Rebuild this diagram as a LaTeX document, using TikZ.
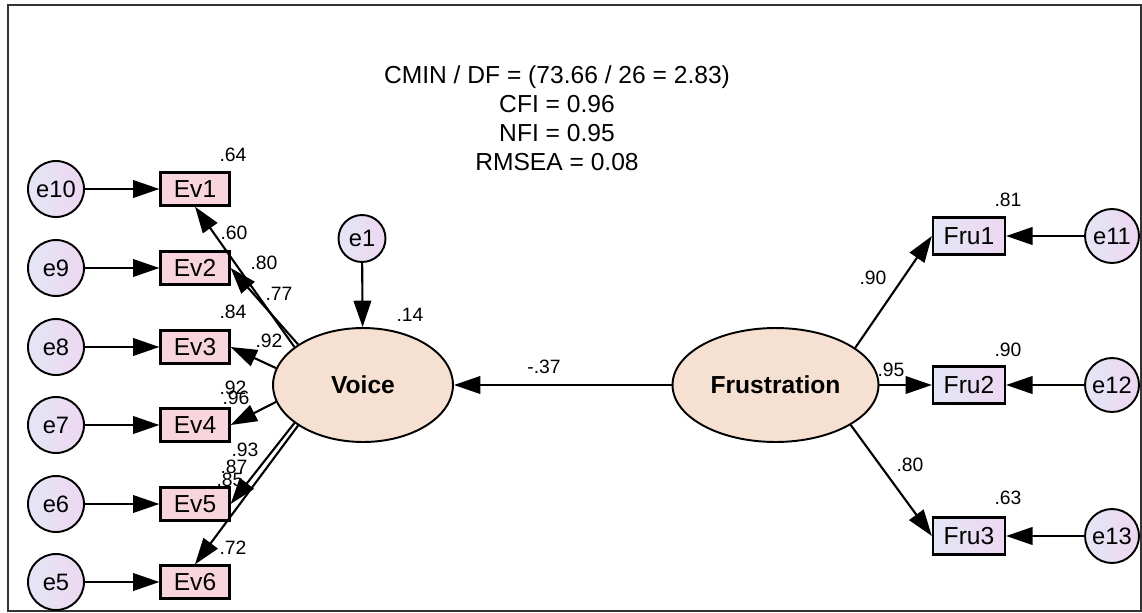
\documentclass[tikz,border=0pt]{standalone}
\usepackage{fontspec}
\setmainfont{Liberation Sans}
\usetikzlibrary{arrows.meta,shapes.geometric}
\definecolor{obspink}{HTML}{F8D5DC}
\definecolor{latpeach}{HTML}{F5E0D1}
\definecolor{errleft}{HTML}{E3E6F5}
\definecolor{errright}{HTML}{EED7F1}
\definecolor{framegray}{HTML}{333333}
\tikzset{
  semobs/.style={draw=black,line width=1.3pt,fill=obspink,font=\fontsize{14}{16}\selectfont,minimum width=1.38cm,minimum height=0.66cm,inner sep=0pt},
  semfru/.style={semobs,left color=errleft,right color=errright,minimum width=1.44cm,minimum height=0.74cm},
  semerr/.style={circle,draw=black,line width=1.1pt,left color=errleft,right color=errright,font=\fontsize{13.5}{15}\selectfont,minimum size=1.12cm,inner sep=0pt},
  semlat/.style={ellipse,draw=black,line width=1.1pt,fill=latpeach,font=\bfseries\fontsize{14}{16}\selectfont,minimum width=3.6cm,minimum height=2.28cm},
  sempath/.style={-{Triangle[length=15pt,width=10pt]},line width=1.2pt},
  semnum/.style={font=\fontsize{11}{13}\selectfont,inner sep=0pt}
}

\begin{document}
\begin{tikzpicture}[x=0.02cm,y=-0.02cm]
\useasboundingbox (0,0) rectangle (1142,612);
\draw[framegray,line width=1pt] (8,5) rectangle (1141,611);
\node[font=\fontsize{14}{16.4}\selectfont,align=center] (fitidx) at (557,118) {CMIN / DF = (73.66 / 26 = 2.83)\\CFI = 0.96\\NFI = 0.95\\RMSEA = 0.08};
% latent variables
\node[semlat] (voice) at (363,385) {Voice};
\node[semlat,minimum width=4.12cm] (frust) at (775.5,385) {Frustration};
\node[semerr,minimum size=0.94cm] (e1) at (362,238.5) {e1};
\draw[sempath] (e1) -- (voice);
\draw[sempath] (frust) -- (voice);
% voice indicators
\foreach \i/\y/\e in {1/189/10,2/268/9,3/347/8,4/425/7,5/504/6,6/582/5}{
  \node[semerr] (e\e) at (56,\y) {e\e};
  \node[semobs] (ev\i) at (195,\y) {Ev\i};
  \draw[sempath] (e\e) -- (ev\i);
}
\draw[sempath] (voice.151) -- (ev1.south);
\draw[sempath] (voice.148) -- (ev2.east);
\draw[sempath] (voice.169) -- (ev3.east);
\draw[sempath] (voice.191) -- (ev4.east);
\draw[sempath] (voice.209) -- (ev5.east);
\draw[sempath] (voice.212) -- (ev6.north);
% frustration indicators
\foreach \i/\y/\e in {1/236/11,2/385/12,3/536/13}{
  \node[semfru] (fru\i) at (969,\y) {Fru\i};
  \node[semerr,minimum size=1.08cm] (e\e) at (1112,\y) {e\e};
  \draw[sempath] (e\e) -- (fru\i);
}
\draw[sempath] (frust.25) -- (fru1.west);
\draw[sempath] (frust.east) -- (fru2.west);
\draw[sempath] (frust.-28) -- (fru3.west);
% estimates
\foreach \t/\x/\y [count=\k] in {.64/233/155,.60/234/233,.80/264/263,.77/279/294,.84/233/312,.92/269/341,.92/233/388,.96/236/398,.93/245/450,.87/234/467,.85/230/480,.72/233/548,.14/410/315,-.37/544/367,.81/1008/200,.90/873/278,.90/1008/350,.95/891/370,.80/910/465,.63/1008/498}{
  \node[semnum] (est\k) at (\x,\y) {\t};
}
\end{tikzpicture}
\end{document}
